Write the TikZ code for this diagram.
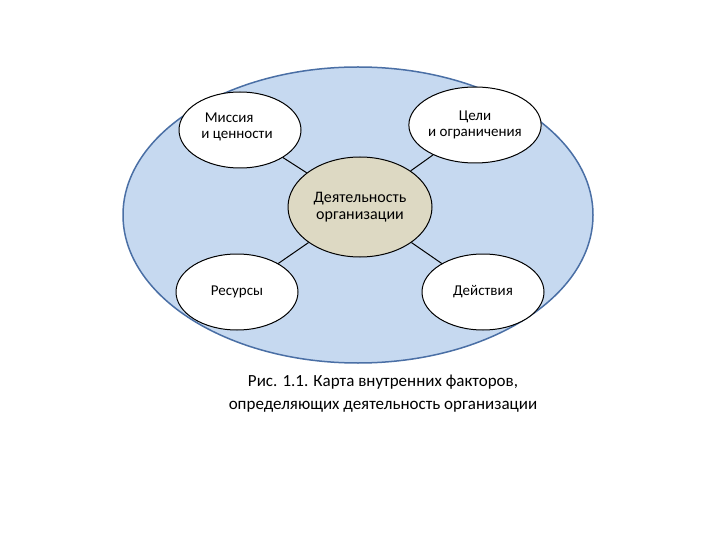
\documentclass[tikz,border=0pt]{standalone}
\usepackage{fontspec}
\setmainfont{Carlito}
\usetikzlibrary{shapes.geometric}
\definecolor{bigfill}{HTML}{C6D9F0}
\definecolor{bigdraw}{HTML}{4A6FA5}
\definecolor{midfill}{HTML}{DDD9C3}
\begin{document}
\begin{tikzpicture}[x=1pt,y=-1pt,
  small/.style={ellipse,draw=black,line width=1pt,fill=white,minimum width=122pt,minimum height=76pt,inner sep=0pt,align=center,font=\fontsize{15}{15.5}\selectfont},
  conn/.style={draw=black,line width=1pt}]
\useasboundingbox (0,0) rectangle (720,540);
\node[ellipse,draw=bigdraw,line width=1.5pt,fill=bigfill,minimum width=470pt,minimum height=296pt] (big) at (358,215) {};
\node[small] (m) at (240,130) {};
\node[align=left,font=\fontsize{15}{15.5}\selectfont] at (237,127) {\ Миссия\\и ценности};
\node[small] (g) at (475,125) {Цели\\и ограничения};
\node[small] (r) at (237,292) {};
\node[font=\fontsize{15}{15.5}\selectfont] at (237,292) {Ресурсы};
\node[small] (a) at (483,292) {Действия};
\node[ellipse,draw=black,line width=1pt,fill=midfill,minimum width=144pt,minimum height=100pt,inner sep=0pt,align=center,font=\fontsize{16}{16.5}\selectfont] (c) at (360,207) {Деятельность\\организации};
\foreach \n in {m,g,r,a} \draw[conn] (c) -- (\n);
\node[align=center,font=\fontsize{17}{23}\selectfont] (cap) at (383,394) {Рис. 1.1. Карта внутренних факторов,\\определяющих деятельность организации};
\end{tikzpicture}
\end{document}
